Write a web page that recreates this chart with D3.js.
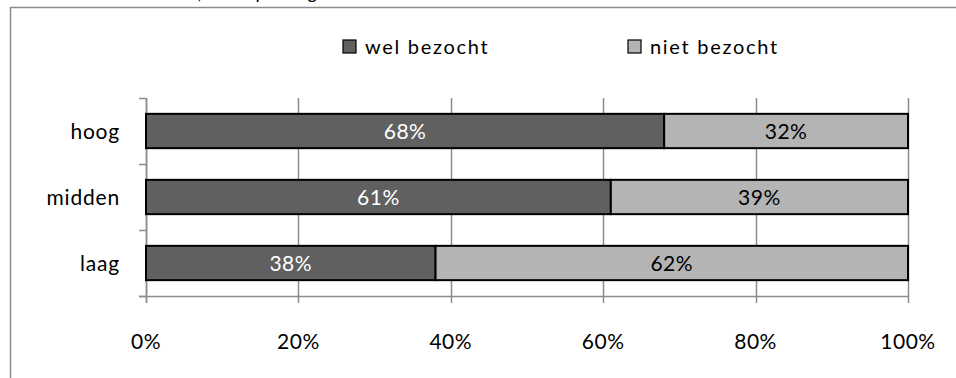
<!DOCTYPE html>
<html>
<head>
<meta charset="utf-8">
<script src="https://cdn.jsdelivr.net/npm/d3@7"></script>
<style>
  html, body { margin: 0; padding: 0; background: #fff; }
  svg { display: block; font-family: Lato, "Open Sans", sans-serif; }
</style>
</head>
<body>
<svg id="chart" width="956" height="378"></svg>
<script>
// Education level categories, top to bottom
const categories = ["hoog", "midden", "laag"];
// Share (%) that visited vs. did not visit
const welBezocht = [68, 61, 38];
const nietBezocht = [32, 39, 62];
const seriesNames = ["wel bezocht", "niet bezocht"];
const tickValues = [0, 20, 40, 60, 80, 100];

const colors = ["#606060", "#b4b4b4"];
const labelColors = ["#ffffff", "#000000"];

const svg = d3.select("#chart");

// Caption line above the frame (only its lower edge falls inside the view)
svg.append("text")
  .attr("x", 318).attr("y", -1)
  .attr("text-anchor", "end")
  .attr("font-style", "italic")
  .attr("font-size", 19)
  .attr("fill", "#000")
  .text("Bezoek, naar opleiding");

// Outer chart frame
svg.append("path")
  .attr("d", "M10.5,390 V7.5 H970")
  .attr("fill", "none")
  .attr("stroke", "#8c8c8c")
  .attr("stroke-width", 1.5);

const margin = { left: 146, right: 48, top: 98, bottom: 82 };
const width = 956 - margin.left - margin.right;
const height = 378 - margin.top - margin.bottom;

const x = d3.scaleLinear().domain([0, 100]).range([0, width]);
const y = d3.scaleBand().domain(categories).range([0, height]).paddingInner(0.48).paddingOuter(0.24);

const g = svg.append("g").attr("transform", `translate(${margin.left},${margin.top})`);

// Vertical gridlines (extend below the axis as tick marks)
g.append("g")
  .selectAll("line")
  .data(tickValues)
  .join("line")
  .attr("x1", d => Math.round(x(d)) + 0.5)
  .attr("x2", d => Math.round(x(d)) + 0.5)
  .attr("y1", 0)
  .attr("y2", height + 7)
  .attr("stroke", "#8c8c8c")
  .attr("stroke-width", 1.5);

// Category axis ticks at band boundaries
const step = y.step();
const bounds = [0, 1, 2, 3].map(i => i === 0 ? 0 : i === 3 ? height : y(categories[i]) - step * y.paddingInner() / 2);
g.append("g")
  .selectAll("line")
  .data(bounds)
  .join("line")
  .attr("x1", -7).attr("x2", 0)
  .attr("y1", d => Math.round(d) + 0.5).attr("y2", d => Math.round(d) + 0.5)
  .attr("stroke", "#8c8c8c")
  .attr("stroke-width", 1.5);

// Axis lines
g.append("line")
  .attr("x1", 0.5).attr("x2", 0.5).attr("y1", 0).attr("y2", height + 7)
  .attr("stroke", "#8c8c8c").attr("stroke-width", 1.5);
g.append("line")
  .attr("x1", -7).attr("x2", width).attr("y1", height + 0.5).attr("y2", height + 0.5)
  .attr("stroke", "#8c8c8c").attr("stroke-width", 1.5);

// Stacked segments
const rows = categories.map((c, i) => ({ cat: c, values: [welBezocht[i], nietBezocht[i]] }));
const segments = [];
rows.forEach(r => {
  let start = 0;
  r.values.forEach((v, s) => {
    segments.push({ cat: r.cat, s, start, end: start + v, v });
    start += v;
  });
});

g.append("g")
  .selectAll("rect")
  .data(segments)
  .join("rect")
  .attr("x", d => x(d.start))
  .attr("width", d => x(d.end) - x(d.start))
  .attr("y", d => y(d.cat))
  .attr("height", y.bandwidth())
  .attr("fill", d => colors[d.s])
  .attr("stroke", "#000")
  .attr("stroke-width", 2);

g.append("g")
  .selectAll("text")
  .data(segments)
  .join("text")
  .attr("x", d => x((d.start + d.end) / 2))
  .attr("y", d => y(d.cat) + y.bandwidth() / 2)
  .attr("dy", "0.36em")
  .attr("text-anchor", "middle")
  .attr("font-size", 21)
  .attr("letter-spacing", 0.5)
  .attr("fill", d => labelColors[d.s])
  .text(d => d.v + "%");

// Category labels
g.append("g")
  .selectAll("text")
  .data(categories)
  .join("text")
  .attr("x", -26)
  .attr("y", d => y(d) + y.bandwidth() / 2)
  .attr("dy", "0.36em")
  .attr("text-anchor", "end")
  .attr("font-size", 21)
  .attr("letter-spacing", 0.8)
  .attr("fill", "#000")
  .text(d => d);

// Value axis labels
g.append("g")
  .selectAll("text")
  .data(tickValues)
  .join("text")
  .attr("x", d => x(d))
  .attr("y", height + 53)
  .attr("text-anchor", "middle")
  .attr("font-size", 21)
  .attr("letter-spacing", 0.5)
  .attr("fill", "#000")
  .text(d => d + "%");

// Legend
const legendX = [343, 628];
const legend = svg.append("g");
seriesNames.forEach((name, i) => {
  legend.append("rect")
    .attr("x", legendX[i]).attr("y", 40)
    .attr("width", 13).attr("height", 13)
    .attr("fill", colors[i])
    .attr("stroke", "#000").attr("stroke-width", 1.2);
  legend.append("text")
    .attr("x", legendX[i] + 22).attr("y", 54)
    .attr("font-size", 20)
    .attr("letter-spacing", 1.7)
    .attr("fill", "#000")
    .text(name);
});
</script>
</body>
</html>
